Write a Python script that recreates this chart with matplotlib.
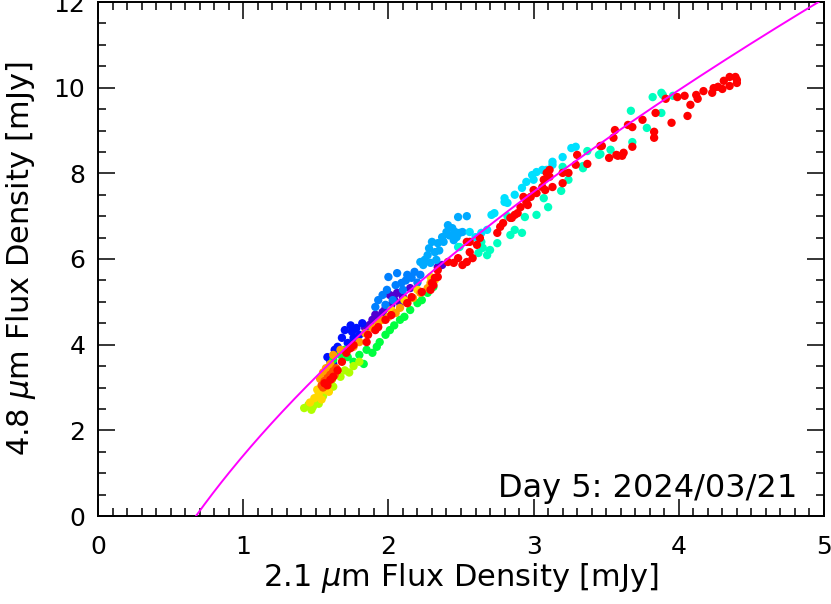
import numpy as np
import matplotlib
matplotlib.use("Agg")
import matplotlib.pyplot as plt
from matplotlib.ticker import MultipleLocator

# ---------------------------
# Data: (2.1 um, 4.8 um) flux pairs, grouped by time colour
# ---------------------------
purple_pts = [(1.84, 4.39), (1.87, 4.46), (1.89, 4.58), (1.93, 4.65), (1.96, 4.76),
              (2.01, 5.16), (2.02, 4.93), (2.06, 5.21), (2.08, 4.97), (2.10, 5.11),
              (2.15, 5.32), (2.34, 5.81), (2.37, 5.86), (1.98, 4.85), (2.04, 5.05),
              (1.91, 4.70)]
blue_pts = [(1.58, 3.71), (1.63, 3.88), (1.65, 3.95), (1.68, 4.16), (1.70, 4.34),
            (1.72, 4.04), (1.75, 4.30), (1.76, 4.16), (1.78, 4.39), (1.80, 4.23),
            (1.62, 3.55), (1.66, 3.80), (1.74, 4.45), (1.82, 4.50), (1.60, 3.62)]
azure_pts = [(1.91, 4.88), (1.93, 5.04), (1.96, 5.16), (1.98, 4.93), (1.99, 5.28),
             (2.00, 5.58), (2.03, 5.04), (2.05, 5.39), (2.06, 5.67), (2.09, 5.44),
             (2.10, 5.28), (2.13, 5.63), (2.16, 5.56), (2.18, 5.70), (2.22, 5.63),
             (2.12, 5.50), (2.20, 5.45)]
lblue_pts = [(2.22, 5.93), (2.24, 5.86), (2.25, 5.98), (2.27, 6.09), (2.29, 5.91),
             (2.30, 6.40), (2.32, 6.16), (2.33, 5.98), (2.34, 6.37), (2.37, 6.51),
             (2.38, 6.40), (2.40, 6.63), (2.41, 6.79), (2.44, 6.72), (2.45, 6.44),
             (2.46, 6.63), (2.47, 6.51), (2.48, 6.98), (2.49, 6.61), (2.51, 6.63),
             (2.54, 7.00), (2.35, 6.20), (2.42, 6.55), (2.28, 6.25)]
cyan_pts = [(2.48, 6.28), (2.56, 6.63), (2.60, 6.51), (2.64, 6.61), (2.68, 6.68),
            (2.71, 7.03), (2.73, 7.07), (2.80, 7.33), (2.80, 7.42), (2.82, 7.31),
            (2.92, 7.66), (2.99, 7.96), (3.00, 7.85), (3.02, 8.03), (3.06, 8.08),
            (3.09, 8.08), (3.13, 8.20), (3.13, 8.27), (3.20, 8.38), (3.26, 8.59),
            (3.29, 8.62), (2.87, 7.50), (2.95, 7.80)]
aqua_pts = [(2.49, 6.28), (2.62, 6.14), (2.64, 6.40), (2.65, 6.26), (2.68, 6.09),
            (2.70, 6.21), (2.75, 6.37), (2.82, 7.00), (2.84, 6.56), (2.87, 6.68),
            (2.92, 6.61), (2.94, 6.98), (3.02, 7.03), (3.07, 7.42), (3.10, 7.21),
            (3.19, 7.59), (3.20, 8.15), (3.24, 7.85), (3.34, 8.17), (3.37, 8.52),
            (3.45, 8.43), (3.46, 8.45), (3.67, 9.46), (3.68, 8.73), (3.78, 9.06),
            (3.82, 9.78), (3.88, 9.88), (3.89, 9.83), (3.88, 9.41), (3.96, 9.81),
            (3.53, 8.55), (3.34, 8.12)]
green_pts = [(1.67, 3.76), (1.70, 3.88), (1.72, 3.71), (1.80, 3.76), (1.85, 3.88),
             (1.89, 3.81), (1.94, 4.06), (1.98, 4.23), (2.01, 4.34), (2.08, 4.58),
             (2.11, 4.65), (2.15, 4.81), (2.20, 4.97), (2.23, 5.04), (2.27, 5.21),
             (2.31, 5.35), (1.76, 3.60), (1.92, 3.95), (2.04, 4.45), (1.83, 3.55),
             (1.62, 3.65), (1.58, 3.45)]
ygreen_pts = [(1.42, 2.52), (1.45, 2.60), (1.48, 2.55), (1.50, 2.70), (1.52, 2.62),
              (1.55, 2.80), (1.58, 2.95), (1.61, 3.18), (1.64, 3.30), (1.67, 3.25),
              (1.70, 3.40), (1.73, 3.35), (1.76, 3.50), (1.80, 3.60), (1.47, 2.48),
              (1.53, 2.85), (1.57, 3.05), (1.62, 3.02)]
yellow_pts = [(1.46, 2.65), (1.49, 2.75), (1.52, 2.85), (1.54, 2.72), (1.56, 2.95),
              (1.59, 2.90), (2.02, 4.81), (2.11, 5.04), (2.20, 5.28), (2.29, 5.58),
              (2.32, 5.51), (1.51, 2.95), (1.58, 3.05)]
orange_pts = [(1.53, 3.20), (1.55, 3.35), (1.57, 3.45), (1.60, 3.55), (1.62, 3.76),
              (1.67, 3.88), (1.72, 3.88), (1.76, 3.95), (1.80, 4.06), (1.84, 4.27),
              (1.89, 4.39), (1.93, 4.51), (1.96, 4.58), (2.00, 4.65), (2.05, 4.74),
              (2.08, 4.86), (2.13, 4.97), (2.17, 5.09), (2.22, 5.21), (2.27, 5.32),
              (2.29, 5.44), (1.56, 3.10), (1.59, 3.30)]
ored_pts = [(1.54, 3.05), (1.56, 3.15), (1.58, 3.22), (1.60, 3.30), (1.62, 3.38),
            (1.64, 3.45), (1.57, 3.10), (1.61, 3.20), (1.55, 3.00), (1.63, 3.30)]
red_pts = [(1.56, 3.10), (1.58, 3.05), (1.60, 3.18), (1.62, 3.25), (1.65, 3.40),
           (1.68, 3.60), (1.71, 3.81), (1.74, 3.92), (1.76, 3.99), (1.85, 4.06),
           (1.86, 4.23), (1.91, 4.34), (1.93, 4.41), (1.98, 4.58), (2.02, 4.69),
           (2.13, 4.97), (2.16, 5.11), (2.23, 5.23), (2.29, 5.28), (2.31, 5.39),
           (2.34, 5.58), (2.30, 5.44), (2.32, 5.56), (2.34, 5.74), (2.41, 5.93),
           (2.45, 5.91), (2.48, 6.02), (2.51, 5.86), (2.54, 5.93), (2.54, 6.40),
           (2.56, 6.40), (2.56, 6.16), (2.58, 6.02), (2.61, 6.33), (2.63, 6.49),
           (2.75, 6.61), (2.77, 6.75), (2.79, 6.84), (2.84, 6.96), (2.85, 6.96),
           (2.87, 7.03), (2.89, 7.07), (2.91, 7.21), (2.93, 7.45), (2.95, 7.33),
           (2.96, 7.26), (2.98, 7.45), (3.00, 7.61), (3.02, 7.54), (3.06, 7.68),
           (3.07, 7.85), (3.08, 7.61), (3.09, 8.01), (3.11, 7.92), (3.11, 8.08),
           (3.13, 7.68), (3.20, 7.77), (3.20, 8.01), (3.24, 8.01), (3.29, 8.20),
           (3.30, 8.43), (3.37, 8.22), (3.46, 8.64), (3.47, 8.64), (3.52, 8.36),
           (3.55, 8.83), (3.56, 9.01), (3.57, 8.43), (3.58, 8.41), (3.61, 8.41),
           (3.62, 8.48), (3.65, 9.13), (3.68, 9.08), (3.68, 8.62), (3.75, 9.25),
           (3.83, 8.97), (3.83, 8.83), (3.84, 9.41), (3.91, 9.74), (3.95, 9.18),
           (3.99, 9.78), (4.04, 9.81), (4.06, 9.34), (4.08, 9.60), (4.12, 9.83),
           (4.13, 9.74), (4.17, 9.92), (4.23, 9.88), (4.24, 9.99), (4.27, 10.02),
           (4.30, 9.97), (4.31, 10.16), (4.35, 10.04), (4.35, 10.25), (4.39, 10.25),
           (4.40, 10.11), (4.40, 10.18)]

# plotted in time order (early -> late)
groups = [
    (purple_pts, "#5000d0"),
    (blue_pts, "#0010ff"),
    (azure_pts, "#0080ff"),
    (lblue_pts, "#00aaff"),
    (cyan_pts, "#00e0ff"),
    (aqua_pts, "#00ffc0"),
    (green_pts, "#00ff40"),
    (ygreen_pts, "#b0ff00"),
    (yellow_pts, "#ffd800"),
    (orange_pts, "#ffa000"),
    (ored_pts, "#ff5000"),
    (red_pts, "#ff0000"),
]

# power-law fit: F4.8 = A * F2.1**p - B
fit_A = 6.912
fit_p = 0.58
fit_B = 5.502

plt.rcParams["font.family"] = ["DejaVu Sans"]
plt.rcParams["mathtext.fontset"] = "dejavusans"

fig = plt.figure(figsize=(8.31, 6.04), dpi=100)
ax = fig.add_axes([98 / 831, 1 - 516 / 604, 726 / 831, 514 / 604])

for pts, col in groups:
    arr = np.array(pts)
    ax.scatter(arr[:, 0], arr[:, 1], s=36, color=col, edgecolors="none", zorder=2)

x0 = (fit_B / fit_A) ** (1 / fit_p)
xf = np.linspace(x0, 5, 300)
ax.plot(xf, fit_A * xf ** fit_p - fit_B, color="#ff00ff", lw=1.4, zorder=3)

ax.set_xlim(0, 5)
ax.set_ylim(0, 12)
ax.xaxis.set_major_locator(MultipleLocator(1))
ax.xaxis.set_minor_locator(MultipleLocator(0.1))
ax.yaxis.set_major_locator(MultipleLocator(2))
ax.yaxis.set_minor_locator(MultipleLocator(0.5))
ax.tick_params(which="both", direction="in", top=True, right=True, width=1.1, colors="black")
ax.tick_params(which="major", length=12, labelsize=18)
ax.tick_params(axis="x", which="major", pad=14)
ax.tick_params(axis="y", which="major", pad=9)
ax.tick_params(which="minor", length=6)
for sp in ax.spines.values():
    sp.set_linewidth(1.4)

ax.set_xlabel(r"2.1 $\mu$m Flux Density [mJy]", fontsize=22, labelpad=1)
ax.set_ylabel(r"4.8 $\mu$m Flux Density [mJy]", fontsize=22, labelpad=11)

ax.text(0.963, 0.037, "Day 5: 2024/03/21", transform=ax.transAxes,
        ha="right", va="baseline", fontsize=23)

fig.savefig("out.png", dpi=100)
